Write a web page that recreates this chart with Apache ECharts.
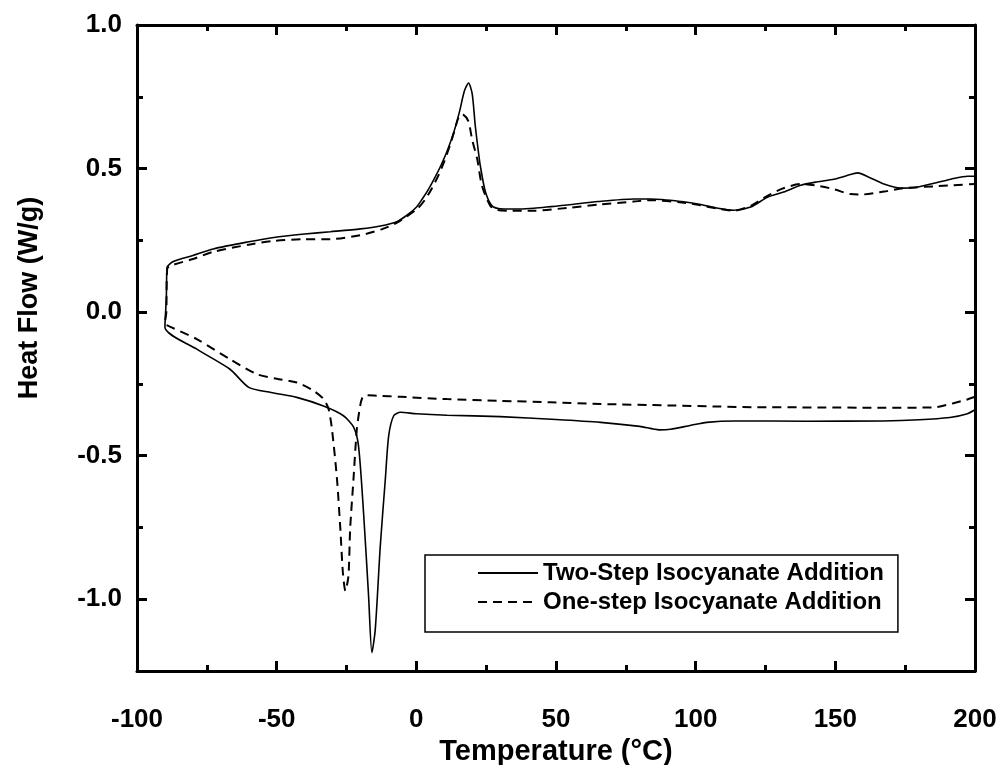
<!DOCTYPE html>
<html>
<head>
<meta charset="utf-8">
<script src="https://cdn.jsdelivr.net/npm/echarts@6/dist/echarts.min.js"></script>
<style>html,body{margin:0;padding:0;background:#fff}#c{width:1003px;height:765px}</style>
</head>
<body>
<div id="c"></div>
<script>
// Temperature (°C), Heat Flow (W/g) pairs
var twoStepCooling = [
  [200, -0.34], [197, -0.355], [191, -0.367], [180, -0.375], [167, -0.379], [140, -0.38], [114, -0.379],
  [104, -0.384], [98, -0.395], [91, -0.408], [87, -0.41], [80, -0.398], [66, -0.384], [50, -0.374],
  [30, -0.364], [11, -0.359], [0, -0.354], [-5.7, -0.349], [-8.1, -0.361], [-9.9, -0.431], [-11.1, -0.582],
  [-12.9, -0.814], [-14.7, -1.105], [-15.9, -1.186], [-17.1, -0.988], [-18.9, -0.698], [-20.7, -0.466],
  [-22.5, -0.40], [-26.1, -0.361], [-33, -0.328], [-42.8, -0.297], [-52, -0.28], [-60, -0.262],
  [-66.7, -0.199], [-78.6, -0.129], [-90, -0.053]
];
var twoStepHeating = [
  [-90, -0.053], [-89.5, 0.05], [-89.2, 0.156], [-87, 0.176], [-80, 0.197], [-72.7, 0.22], [-60, 0.245],
  [-51, 0.26], [-40, 0.272], [-30.8, 0.28], [-20, 0.29], [-12.9, 0.30], [-7, 0.315], [-3, 0.34],
  [0, 0.365], [2, 0.392], [4.5, 0.43], [7, 0.475], [9, 0.515], [11, 0.56], [13.4, 0.626], [15.5, 0.70],
  [17.2, 0.77], [18.7, 0.798], [20, 0.76], [21.1, 0.649], [22.2, 0.56], [22.9, 0.51], [24.7, 0.42],
  [27.1, 0.37], [30, 0.36], [33.7, 0.359], [42, 0.362], [54, 0.373], [65, 0.385], [77.8, 0.394],
  [84, 0.394], [95, 0.385], [101.8, 0.375], [108, 0.362], [113.6, 0.355], [119.7, 0.366], [125.7, 0.40],
  [131.5, 0.418], [137.6, 0.442], [143.6, 0.454], [149.5, 0.463], [154, 0.475], [158, 0.485], [162, 0.47],
  [167.4, 0.446], [173.3, 0.432], [178, 0.433], [185.3, 0.449], [191.4, 0.463], [197.4, 0.473], [200, 0.473]
];
var oneStepCooling = [
  [200, -0.295], [197, -0.305], [192, -0.318], [185, -0.332], [165, -0.333], [143.6, -0.332], [120, -0.331],
  [109, -0.329], [90, -0.325], [66, -0.32], [48, -0.314], [30, -0.309], [11, -0.303], [-5.7, -0.295],
  [-14, -0.291], [-18.3, -0.289], [-19.4, -0.30], [-20.1, -0.326], [-21.3, -0.408], [-22.5, -0.582],
  [-23.7, -0.756], [-24.3, -0.919], [-25.4, -0.971], [-26.3, -0.907], [-27.2, -0.756], [-28.4, -0.582],
  [-30.2, -0.408], [-31.4, -0.338], [-33.2, -0.303], [-36.8, -0.274], [-42.8, -0.245], [-50, -0.232],
  [-57.1, -0.216], [-66.7, -0.164], [-78.6, -0.094], [-87.6, -0.053], [-90, -0.04]
];
var oneStepHeating = [
  [-90, -0.04], [-89.5, 0.0], [-89.2, 0.15], [-88.2, 0.161], [-80, 0.185], [-72.7, 0.21], [-60, 0.235],
  [-51.1, 0.248], [-40, 0.254], [-30.8, 0.254], [-20, 0.268], [-12, 0.29], [-6.9, 0.312], [0.25, 0.359],
  [3, 0.39], [5.5, 0.43], [8, 0.478], [10, 0.525], [12, 0.58], [13.6, 0.63], [15, 0.675], [16.4, 0.69], [18.6, 0.665],
  [20, 0.60], [21.8, 0.533], [23.5, 0.44], [26.5, 0.37], [29, 0.356], [32.5, 0.353], [42, 0.353],
  [54, 0.363], [66, 0.375], [77.8, 0.385], [84, 0.39], [95, 0.382], [101.8, 0.372], [108, 0.36],
  [113.6, 0.353], [119.7, 0.37], [125.7, 0.405], [131, 0.43], [137.6, 0.446], [143.6, 0.44], [149.5, 0.428],
  [155.5, 0.411], [160, 0.41], [167.5, 0.42], [174.6, 0.432], [185.3, 0.438], [192, 0.442], [200, 0.446]
];
var seriesNames = ['Two-Step Isocyanate Addition', 'One-step Isocyanate Addition'];
var xMajor = [-100, -50, 0, 50, 100, 150, 200];
var yMajor = [-1.0, -0.5, 0.0, 0.5, 1.0];
var yMinor = [-0.75, -0.25, 0.25, 0.75];

var FONT = '"Liberation Sans", Arial, sans-serif';
var chart = echarts.init(document.getElementById('c'), null, {renderer: 'canvas'});

function xAxisDef(pos, show) {
  return {
    type: 'value', position: pos, min: -100, max: 200, interval: 50,
    axisLine: {show: true, onZero: false, lineStyle: {color: '#000', width: 3}},
    axisTick: {show: true, inside: true, length: 10, lineStyle: {color: '#000', width: 3}},
    minorTick: {show: true, splitNumber: 2, length: 6, lineStyle: {color: '#000', width: 3}},
    splitLine: {show: false},
    axisLabel: {show: show, margin: 36, color: '#000', fontFamily: FONT, fontWeight: 'bold', fontSize: 26},
    name: show ? 'Temperature (°C)' : '', nameLocation: 'middle', nameGap: 56,
    nameTextStyle: {color: '#000', fontFamily: FONT, fontWeight: 'bold', fontSize: 29}
  };
}
function yAxisDef(pos, ticks, len, show, line) {
  return {
    type: 'value', position: pos, min: -1.25, max: 1.0, interval: 0.25,
    axisLine: {show: line, onZero: false, lineStyle: {color: '#000', width: 3}},
    axisTick: {show: true, inside: true, length: len, customValues: ticks, lineStyle: {color: '#000', width: 3}},
    splitLine: {show: false},
    axisLabel: {show: show, customValues: yMajor, margin: 15, color: '#000', fontFamily: FONT, fontWeight: 'bold', fontSize: 26,
      formatter: function (v) { return Number(v).toFixed(1); }},
    name: show ? 'Heat Flow (W/g)' : '', nameLocation: 'middle', nameGap: 94,
    nameTextStyle: {color: '#000', fontFamily: FONT, fontWeight: 'bold', fontSize: 27, padding: [0, 0, 0, 100]}
  };
}

chart.setOption({
  animation: false,
  backgroundColor: '#fff',
  grid: {left: 137, right: 28, top: 25, bottom: 94, containLabel: false, outerBoundsMode: 'none'},
  xAxis: [xAxisDef('bottom', true), xAxisDef('top', false)],
  yAxis: [
    yAxisDef('left', yMajor, 10, true, true),
    yAxisDef('left', yMinor, 6, false, false),
    yAxisDef('right', yMajor, 10, false, true),
    yAxisDef('right', yMinor, 6, false, false)
  ],
  legend: {
    orient: 'vertical', left: 425, top: 555,
    padding: [6, 14, 18, 52], itemGap: 5, itemWidth: 60, itemHeight: 14,
    borderColor: '#000', borderWidth: 1.5, backgroundColor: '#fff',
    itemStyle: {opacity: 0},
    textStyle: {color: '#000', fontFamily: FONT, fontWeight: 'bold', fontSize: 24},
    data: seriesNames
  },
  series: [
    {
      name: seriesNames[0], type: 'line', xAxisIndex: 0, yAxisIndex: 0,
      showSymbol: false, symbol: 'none', smooth: 0.25,
      lineStyle: {color: '#000', width: 1.6, type: 'solid'},
      itemStyle: {color: '#000'},
      data: twoStepCooling.concat(twoStepHeating)
    },
    {
      name: seriesNames[1], type: 'line', xAxisIndex: 0, yAxisIndex: 0,
      showSymbol: false, symbol: 'none', smooth: 0.25,
      lineStyle: {color: '#000', width: 2, type: [9, 6]},
      itemStyle: {color: '#000'},
      data: oneStepCooling.concat(oneStepHeating)
    }
  ]
});
</script>
</body>
</html>
